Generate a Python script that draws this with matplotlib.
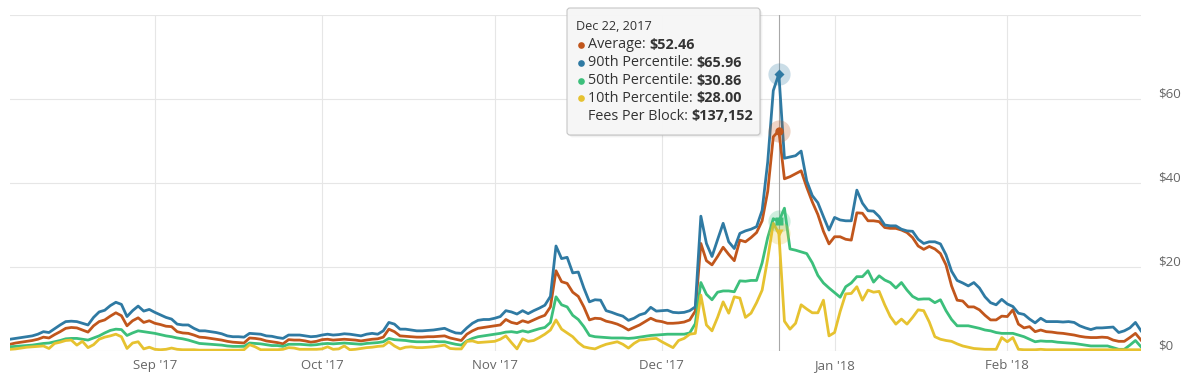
import pandas as pd
import numpy as np
import matplotlib
matplotlib.use("Agg")
import matplotlib.pyplot as plt
from matplotlib.transforms import ScaledTranslation
from matplotlib.patches import FancyBboxPatch

plt.rcParams['font.family'] = ['Open Sans', 'DejaVu Sans']

# daily values, Aug 6 2017 .. Feb 25 2018
dates = pd.date_range('2017-08-06', '2018-02-25', freq='D')

p90 = [2.8, 3.0, 3.2, 3.4, 3.6, 4.0, 4.6, 4.4, 5.3, 6.2,
       7.0, 7.1, 7.0, 6.6, 6.2, 8.0, 9.3, 9.7, 10.8, 11.6,
       11.1, 8.2, 9.6, 10.7, 9.5, 9.9, 9.2, 8.6, 8.0, 7.6,
       6.4, 6.2, 6.2, 5.4, 4.8, 4.8, 4.6, 4.4, 4.1, 3.6,
       3.4, 3.4, 3.3, 4.2, 4.1, 4.0, 3.6, 3.5, 3.2, 3.0,
       3.8, 3.8, 3.8, 3.6, 3.4, 3.5, 3.8, 4.0, 3.8, 3.9,
       4.1, 4.0, 3.8, 3.6, 4.0, 4.2, 4.0, 4.8, 6.8, 6.4,
       5.2, 5.2, 5.0, 4.8, 4.8, 4.9, 5.0, 5.2, 5.4, 4.8,
       4.3, 4.2, 5.5, 6.6, 7.3, 7.5, 7.5, 7.8, 8.2, 9.6,
       9.3, 8.8, 9.6, 8.9, 9.6, 10.2, 10.9, 13.0, 25.0, 22.0,
       22.3, 18.6, 18.8, 15.0, 11.7, 12.2, 12.1, 9.6, 9.2, 8.7,
       8.3, 7.3, 7.8, 8.6, 9.0, 10.4, 9.5, 9.6, 9.7, 9.2,
       9.1, 9.2, 9.6, 10.5, 32.1, 25.6, 22.5, 26.5, 30.4, 26.0,
       24.4, 28.0, 28.6, 29.0, 29.6, 33.5, 45.0, 62.0, 65.96, 45.9,
       46.2, 46.5, 47.6, 40.5, 37.0, 35.3, 32.0, 28.8, 31.8, 31.2,
       31.0, 31.0, 38.3, 35.2, 33.4, 33.3, 32.0, 30.0, 29.8, 29.8,
       29.0, 28.6, 28.5, 26.6, 25.6, 26.0, 26.0, 25.5, 22.9, 19.0,
       16.8, 16.2, 15.5, 16.3, 15.0, 12.9, 11.5, 11.0, 12.3, 11.2,
       10.6, 9.0, 8.7, 7.6, 6.7, 7.8, 7.0, 7.0, 7.0, 6.9,
       7.0, 6.8, 6.0, 5.5, 5.1, 5.5, 5.5, 5.6, 5.7, 4.4,
       4.8, 5.5, 6.8, 4.8]

avg = [1.6, 1.9, 2.1, 2.3, 2.5, 2.8, 3.3, 3.1, 3.9, 4.6,
       5.4, 5.6, 5.5, 5.0, 4.5, 6.0, 7.0, 7.4, 8.3, 9.1,
       8.4, 6.0, 7.2, 7.9, 6.8, 7.2, 6.6, 6.3, 5.9, 5.8,
       4.6, 4.3, 4.2, 3.8, 3.3, 3.2, 3.0, 2.8, 2.6, 2.3,
       2.1, 2.0, 1.9, 3.1, 3.0, 2.8, 2.4, 2.2, 2.0, 1.7,
       2.7, 2.6, 2.6, 2.4, 2.1, 2.3, 2.7, 2.8, 2.6, 2.7,
       2.8, 2.7, 2.6, 2.4, 2.6, 2.8, 2.9, 3.3, 5.2, 4.6,
       3.6, 3.5, 3.4, 3.3, 3.3, 3.4, 3.4, 3.5, 3.6, 3.1,
       2.8, 2.5, 4.0, 4.8, 5.4, 5.6, 5.8, 6.0, 6.2, 7.5,
       6.8, 6.5, 7.2, 6.8, 7.4, 8.0, 8.5, 10.5, 19.1, 16.5,
       16.1, 14.0, 13.0, 10.5, 7.4, 7.8, 7.7, 7.1, 6.8, 6.4,
       5.8, 5.0, 5.6, 6.2, 7.0, 7.8, 7.2, 7.0, 6.6, 6.6,
       6.7, 6.9, 7.4, 9.5, 25.6, 21.5, 20.5, 22.5, 24.7, 23.0,
       21.5, 26.4, 26.0, 27.0, 28.2, 31.0, 38.0, 51.0, 52.46, 41.0,
       41.5, 42.2, 42.9, 39.0, 35.5, 32.5, 28.5, 25.5, 27.2, 27.2,
       26.6, 26.4, 32.9, 32.8, 31.0, 31.0, 30.8, 29.4, 29.2, 29.2,
       28.8, 28.2, 27.0, 25.0, 24.2, 24.9, 24.3, 23.2, 20.5, 15.5,
       12.1, 11.9, 10.5, 10.5, 9.8, 8.5, 7.4, 7.4, 8.3, 8.2,
       9.8, 6.4, 5.5, 5.8, 4.6, 5.0, 4.6, 4.5, 4.3, 4.2,
       4.0, 3.8, 3.5, 3.3, 3.2, 3.2, 3.3, 3.2, 2.6, 2.3,
       2.3, 3.2, 4.2, 2.6]

p50 = [1.0, 1.1, 1.2, 1.3, 1.4, 1.6, 1.8, 1.9, 2.2, 2.5,
       2.9, 3.0, 3.0, 2.8, 2.6, 3.1, 3.6, 4.3, 4.9, 5.2,
       5.1, 3.7, 4.3, 4.8, 4.6, 4.4, 4.2, 3.9, 3.6, 3.4,
       3.1, 2.9, 2.6, 2.2, 1.8, 1.7, 1.6, 1.5, 1.4, 1.2,
       1.1, 1.1, 1.1, 1.9, 1.8, 1.7, 1.5, 1.3, 1.3, 1.1,
       1.6, 1.6, 1.6, 1.5, 1.4, 1.5, 1.7, 1.8, 1.7, 1.8,
       1.9, 1.8, 1.7, 1.6, 1.8, 1.9, 2.0, 2.2, 3.0, 2.7,
       2.6, 2.5, 2.3, 2.2, 2.2, 2.2, 2.3, 2.2, 2.2, 1.9,
       1.6, 1.4, 2.4, 3.0, 3.4, 3.6, 3.8, 4.0, 4.2, 4.5,
       4.6, 4.4, 4.8, 4.5, 4.9, 5.3, 5.6, 6.8, 12.9, 11.0,
       10.5, 8.5, 7.5, 5.8, 3.7, 3.4, 3.3, 3.2, 3.1, 3.1,
       3.1, 3.0, 3.1, 3.3, 3.5, 3.7, 3.8, 3.9, 4.0, 4.0,
       4.0, 4.0, 4.3, 6.5, 16.3, 13.5, 12.2, 14.0, 14.3, 14.3,
       14.1, 16.7, 16.6, 16.8, 16.8, 21.0, 27.0, 31.5, 30.86, 34.0,
       24.3, 24.0, 23.6, 23.2, 21.0, 18.0, 16.2, 15.0, 13.9, 12.8,
       15.3, 16.2, 17.7, 17.7, 19.1, 16.4, 17.9, 16.9, 16.3, 15.0,
       16.3, 14.5, 13.0, 12.3, 12.4, 12.4, 11.5, 12.2, 9.6, 7.5,
       6.0, 6.0, 6.0, 5.7, 5.4, 5.0, 4.8, 4.4, 4.2, 4.2,
       4.2, 3.8, 3.4, 2.8, 2.2, 2.4, 2.3, 2.3, 2.1, 2.0,
       1.9, 1.8, 1.6, 1.4, 1.2, 1.2, 1.2, 1.2, 0.8, 0.4,
       0.4, 1.4, 2.5, 1.0]

p10 = [0.4, 0.5, 0.7, 0.9, 1.0, 1.1, 1.2, 0.6, 1.8, 2.1,
       2.5, 2.6, 1.4, 2.3, 0.8, 1.5, 2.8, 3.3, 3.6, 4.0,
       3.4, 0.6, 1.9, 2.2, 0.5, 0.9, 0.4, 0.3, 0.4, 0.7,
       0.4, 0.3, 0.3, 0.3, 0.2, 0.2, 0.2, 0.2, 0.2, 0.2,
       0.2, 0.2, 0.3, 1.5, 1.0, 0.3, 0.3, 0.3, 0.3, 0.4,
       0.8, 0.7, 0.4, 0.4, 0.4, 0.4, 0.5, 1.0, 0.4, 0.5,
       1.2, 0.3, 0.4, 0.6, 0.8, 0.9, 1.1, 1.2, 2.2, 1.2,
       0.5, 0.9, 1.0, 0.8, 0.8, 0.9, 1.0, 1.2, 1.4, 0.6,
       0.5, 0.5, 2.3, 2.4, 2.0, 2.1, 2.2, 2.3, 2.8, 3.6,
       2.0, 0.5, 2.9, 2.3, 2.5, 3.2, 4.0, 5.0, 7.4, 5.2,
       4.3, 3.4, 2.0, 1.0, 0.7, 0.5, 1.1, 1.6, 1.9, 2.2,
       1.6, 0.7, 1.8, 2.6, 2.7, 2.9, 3.0, 2.2, 1.5, 0.8,
       2.5, 3.0, 4.0, 4.2, 13.3, 6.2, 4.8, 8.0, 11.7, 9.0,
       12.9, 12.6, 8.0, 9.0, 11.5, 14.5, 22.0, 30.4, 28.0, 7.1,
       5.2, 6.6, 11.0, 10.0, 9.1, 9.1, 12.1, 3.6, 4.4, 9.4,
       13.6, 13.7, 15.3, 12.1, 14.5, 14.0, 14.2, 11.0, 8.2, 6.4,
       7.6, 6.4, 8.0, 9.8, 9.6, 6.9, 3.4, 2.8, 2.5, 2.3,
       1.7, 1.2, 0.9, 0.6, 0.5, 0.4, 0.4, 0.4, 3.2, 2.2,
       3.2, 0.4, 0.3, 0.3, 0.3, 0.4, 0.3, 0.3, 0.3, 0.3,
       0.3, 0.3, 0.3, 0.3, 0.3, 0.3, 0.3, 0.3, 0.3, 0.3,
       0.3, 0.3, 0.3, 0.3]

fees_per_block = 137152
hover_day = '2017-12-22'

y_ticks = [0, 20, 40, 60, 80]
y_labels = ['$0', '$20', '$40', '$60', '']
month_ticks = pd.date_range('2017-09-01', '2018-02-01', freq='MS')
month_labels = ["Sep '17", "Oct '17", "Nov '17", "Dec '17", "Jan '18", "Feb '18"]

c_avg = '#c1561c'
c_90 = '#2f7aa3'
c_50 = '#3cbf7b'
c_10 = '#e6c230'

# order as in the tooltip
series = [('Average', avg, c_avg, 'o', 6),
          ('90th Percentile', p90, c_90, 'D', 5),
          ('50th Percentile', p50, c_50, 's', 5.5),
          ('10th Percentile', p10, c_10, 'v', 6)]

fig = plt.figure(figsize=(12, 3.81), dpi=100)
ax = fig.add_axes([10/1200, 30/381, 1131/1200, 336/381])

for name, vals, col, mk, ms in series:
    ax.plot(dates, vals, color=col, lw=2.0, solid_joinstyle='round', zorder=3)

# hover crosshair + markers
i = dates.get_loc(pd.Timestamp(hover_day))
ax.axvline(dates[i], color='#a8a8a8', lw=0.8, zorder=2)
for name, vals, col, mk, ms in series:
    ax.plot(dates[i], vals[i], marker='o', ms=16, color=col, alpha=0.25, mec='none', zorder=4, clip_on=False)
    ax.plot(dates[i], vals[i], marker=mk, ms=ms, color=col, mec='none', zorder=5, clip_on=False)

ax.set_xlim(dates[0], dates[-1])
ax.set_ylim(0, 80)
ax.set_xticks(month_ticks)
ax.set_xticklabels(month_labels)
ax.set_yticks(y_ticks)
ax.set_yticklabels(y_labels)
ax.yaxis.tick_right()
ax.tick_params(length=0, labelsize=9.5, labelcolor='#666666')
ax.tick_params(axis='y', pad=12)
ax.tick_params(axis='x', pad=6)
ax.grid(color='#e6e6e6', lw=0.8)
ax.set_axisbelow(True)
for s in ax.spines.values():
    s.set_visible(False)
for lbl in ax.get_yticklabels():
    lbl.set_transform(lbl.get_transform() + ScaledTranslation(0, 0.07, fig.dpi_scale_trans))

# tooltip, drawn in pixel coordinates
ov = fig.add_axes([0, 0, 1, 1], zorder=5)
ov.set_xlim(0, 1200)
ov.set_ylim(381, 0)
ov.axis('off')
for k, a in enumerate([0.05, 0.035, 0.02]):
    ov.add_patch(FancyBboxPatch((567 + k + 1, 8 + k + 1), 193, 127,
                                boxstyle='round,pad=0,rounding_size=3',
                                fc='black', ec='none', alpha=a))
ov.add_patch(FancyBboxPatch((567, 8), 193, 127, boxstyle='round,pad=0,rounding_size=3',
                            fc='#f7f7f7', ec='#c4c4c4', lw=0.8, alpha=0.97))

d = dates[i]
ov.text(576, 27, f"{d:%b} {d.day}, {d:%Y}", va='center', fontsize=9.1, color='#333333')

renderer = fig.canvas.get_renderer()
rows = [(name, f"${vals[i]:.2f}", col) for name, vals, col, mk, ms in series]
rows.append(('Fees Per Block', f"${fees_per_block:,}", None))
for r, (name, val, col) in enumerate(rows):
    y = 45 + 17.8 * r
    if col is not None:
        ov.plot(581, y, 'o', ms=4.8, color=col, mec='none')
    t = ov.text(588, y, name + ':', va='center', fontsize=10.4, color='#333333')
    bb = t.get_window_extent(renderer)
    ov.text(bb.x1 + 4, y, val, va='center', fontsize=10.4, color='#333333', fontweight='bold')

fig.savefig('out.png', dpi=100)
